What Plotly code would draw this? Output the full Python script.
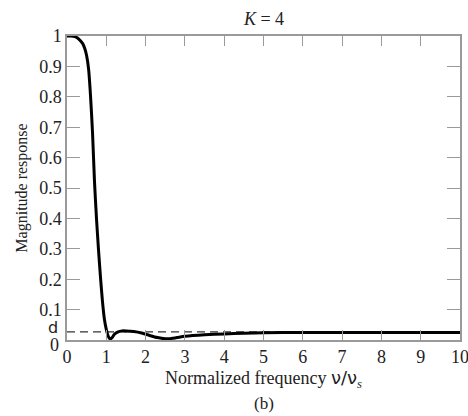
import plotly.graph_objects as go

freq = [0, 0.1, 0.2, 0.3, 0.4, 0.45, 0.5, 0.55, 0.6, 0.65, 0.7, 0.75, 0.8, 0.85,
        0.9, 0.95, 1.0, 1.05, 1.1, 1.15, 1.2, 1.3, 1.4, 1.5, 1.7, 1.9, 2.1, 2.3,
        2.5, 2.6, 2.8, 3.0, 3.5, 4, 4.5, 5, 6, 7, 8, 9, 10]
magnitude = [1, 1, 0.998, 0.99, 0.975, 0.96, 0.935, 0.89, 0.8, 0.68, 0.52, 0.4,
             0.3, 0.21, 0.13, 0.07, 0.035, 0.012, 0.003, 0.008, 0.018, 0.027,
             0.03, 0.03, 0.028, 0.023, 0.015, 0.008, 0.004, 0.004, 0.008, 0.012,
             0.017, 0.02, 0.022, 0.024, 0.025, 0.025, 0.025, 0.025, 0.025]
d_level = 0.027
x_ticks = [0, 1, 2, 3, 4, 5, 6, 7, 8, 9, 10]
y_ticks = [0.1, 0.2, 0.3, 0.4, 0.5, 0.6, 0.7, 0.8, 0.9, 1]
y_tick_text = ["0.1", "0.2", "0.3", "0.4", "0.5", "0.6", "0.7", "0.8", "0.9", "1"]

serif = "Liberation Serif"
sans = "DejaVu Sans"
axis_col = "#9a9a9a"
txt_col = "#222"

fig = go.Figure()
fig.add_trace(go.Scatter(x=[x_ticks[0], x_ticks[-1]], y=[d_level, d_level],
                         mode="lines", line=dict(color="#333", width=1.2, dash="8px,5px"),
                         hoverinfo="skip", showlegend=False))
fig.add_trace(go.Scatter(x=freq, y=magnitude, mode="lines",
                         line=dict(color="black", width=3, shape="spline", smoothing=0.6),
                         showlegend=False))

fig.update_layout(
    width=468, height=416,
    margin=dict(l=67, r=8, t=36, b=76),
    paper_bgcolor="white", plot_bgcolor="white",
    font=dict(family=serif, size=18, color=txt_col),
    showlegend=False,
    title=dict(text="<i>K</i> = 4", x=264 / 468, xanchor="center", y=1 - 19 / 416,
               yanchor="middle", font=dict(family=serif, size=18, color=txt_col)),
    annotations=[
        dict(text="(b)", x=0.5, xref="paper", y=-63 / 304, yref="paper",
             yanchor="middle", showarrow=False,
             font=dict(family=serif, size=17, color=txt_col)),
        dict(text="0", x=0, xref="paper", y=0, yref="y", xanchor="right",
             yanchor="middle", xshift=-6, yshift=-5, showarrow=False,
             font=dict(family=serif, size=18, color=txt_col)),
        dict(text="d", x=0, xref="paper", y=d_level, yref="y", xanchor="right",
             yanchor="middle", xshift=-7, yshift=4, showarrow=False,
             font=dict(family=sans, size=16, color=txt_col)),
    ],
)
fig.update_xaxes(range=[0, 10], tickvals=x_ticks, ticks="inside", ticklen=10,
                 tickcolor=axis_col, tickwidth=1.3, showline=True, linecolor=axis_col,
                 linewidth=1.5, mirror="ticks", showgrid=False, zeroline=False,
                 automargin=False, ticklabeloverflow="allow",
                 tickfont=dict(family=serif, size=18),
                 title=dict(text="Normalized frequency <span style='font-family:DejaVu Sans'>ν/ν</span><sub><i>s</i></sub>",
                            standoff=4, font=dict(family=serif, size=18)))
fig.update_yaxes(range=[0, 1], tickvals=y_ticks, ticktext=y_tick_text, ticks="inside",
                 ticklen=13, tickcolor=axis_col, tickwidth=1.3, showline=True,
                 linecolor=axis_col, linewidth=1.5, mirror="ticks", showgrid=False,
                 zeroline=False, automargin=False, ticklabeloverflow="allow",
                 tickfont=dict(family=serif, size=18),
                 title=dict(text="Magnitude response", standoff=8,
                            font=dict(family=serif, size=16)))

fig.write_html("out.html", config={"displayModeBar": False},
               post_script="document.body.style.margin='0';")
